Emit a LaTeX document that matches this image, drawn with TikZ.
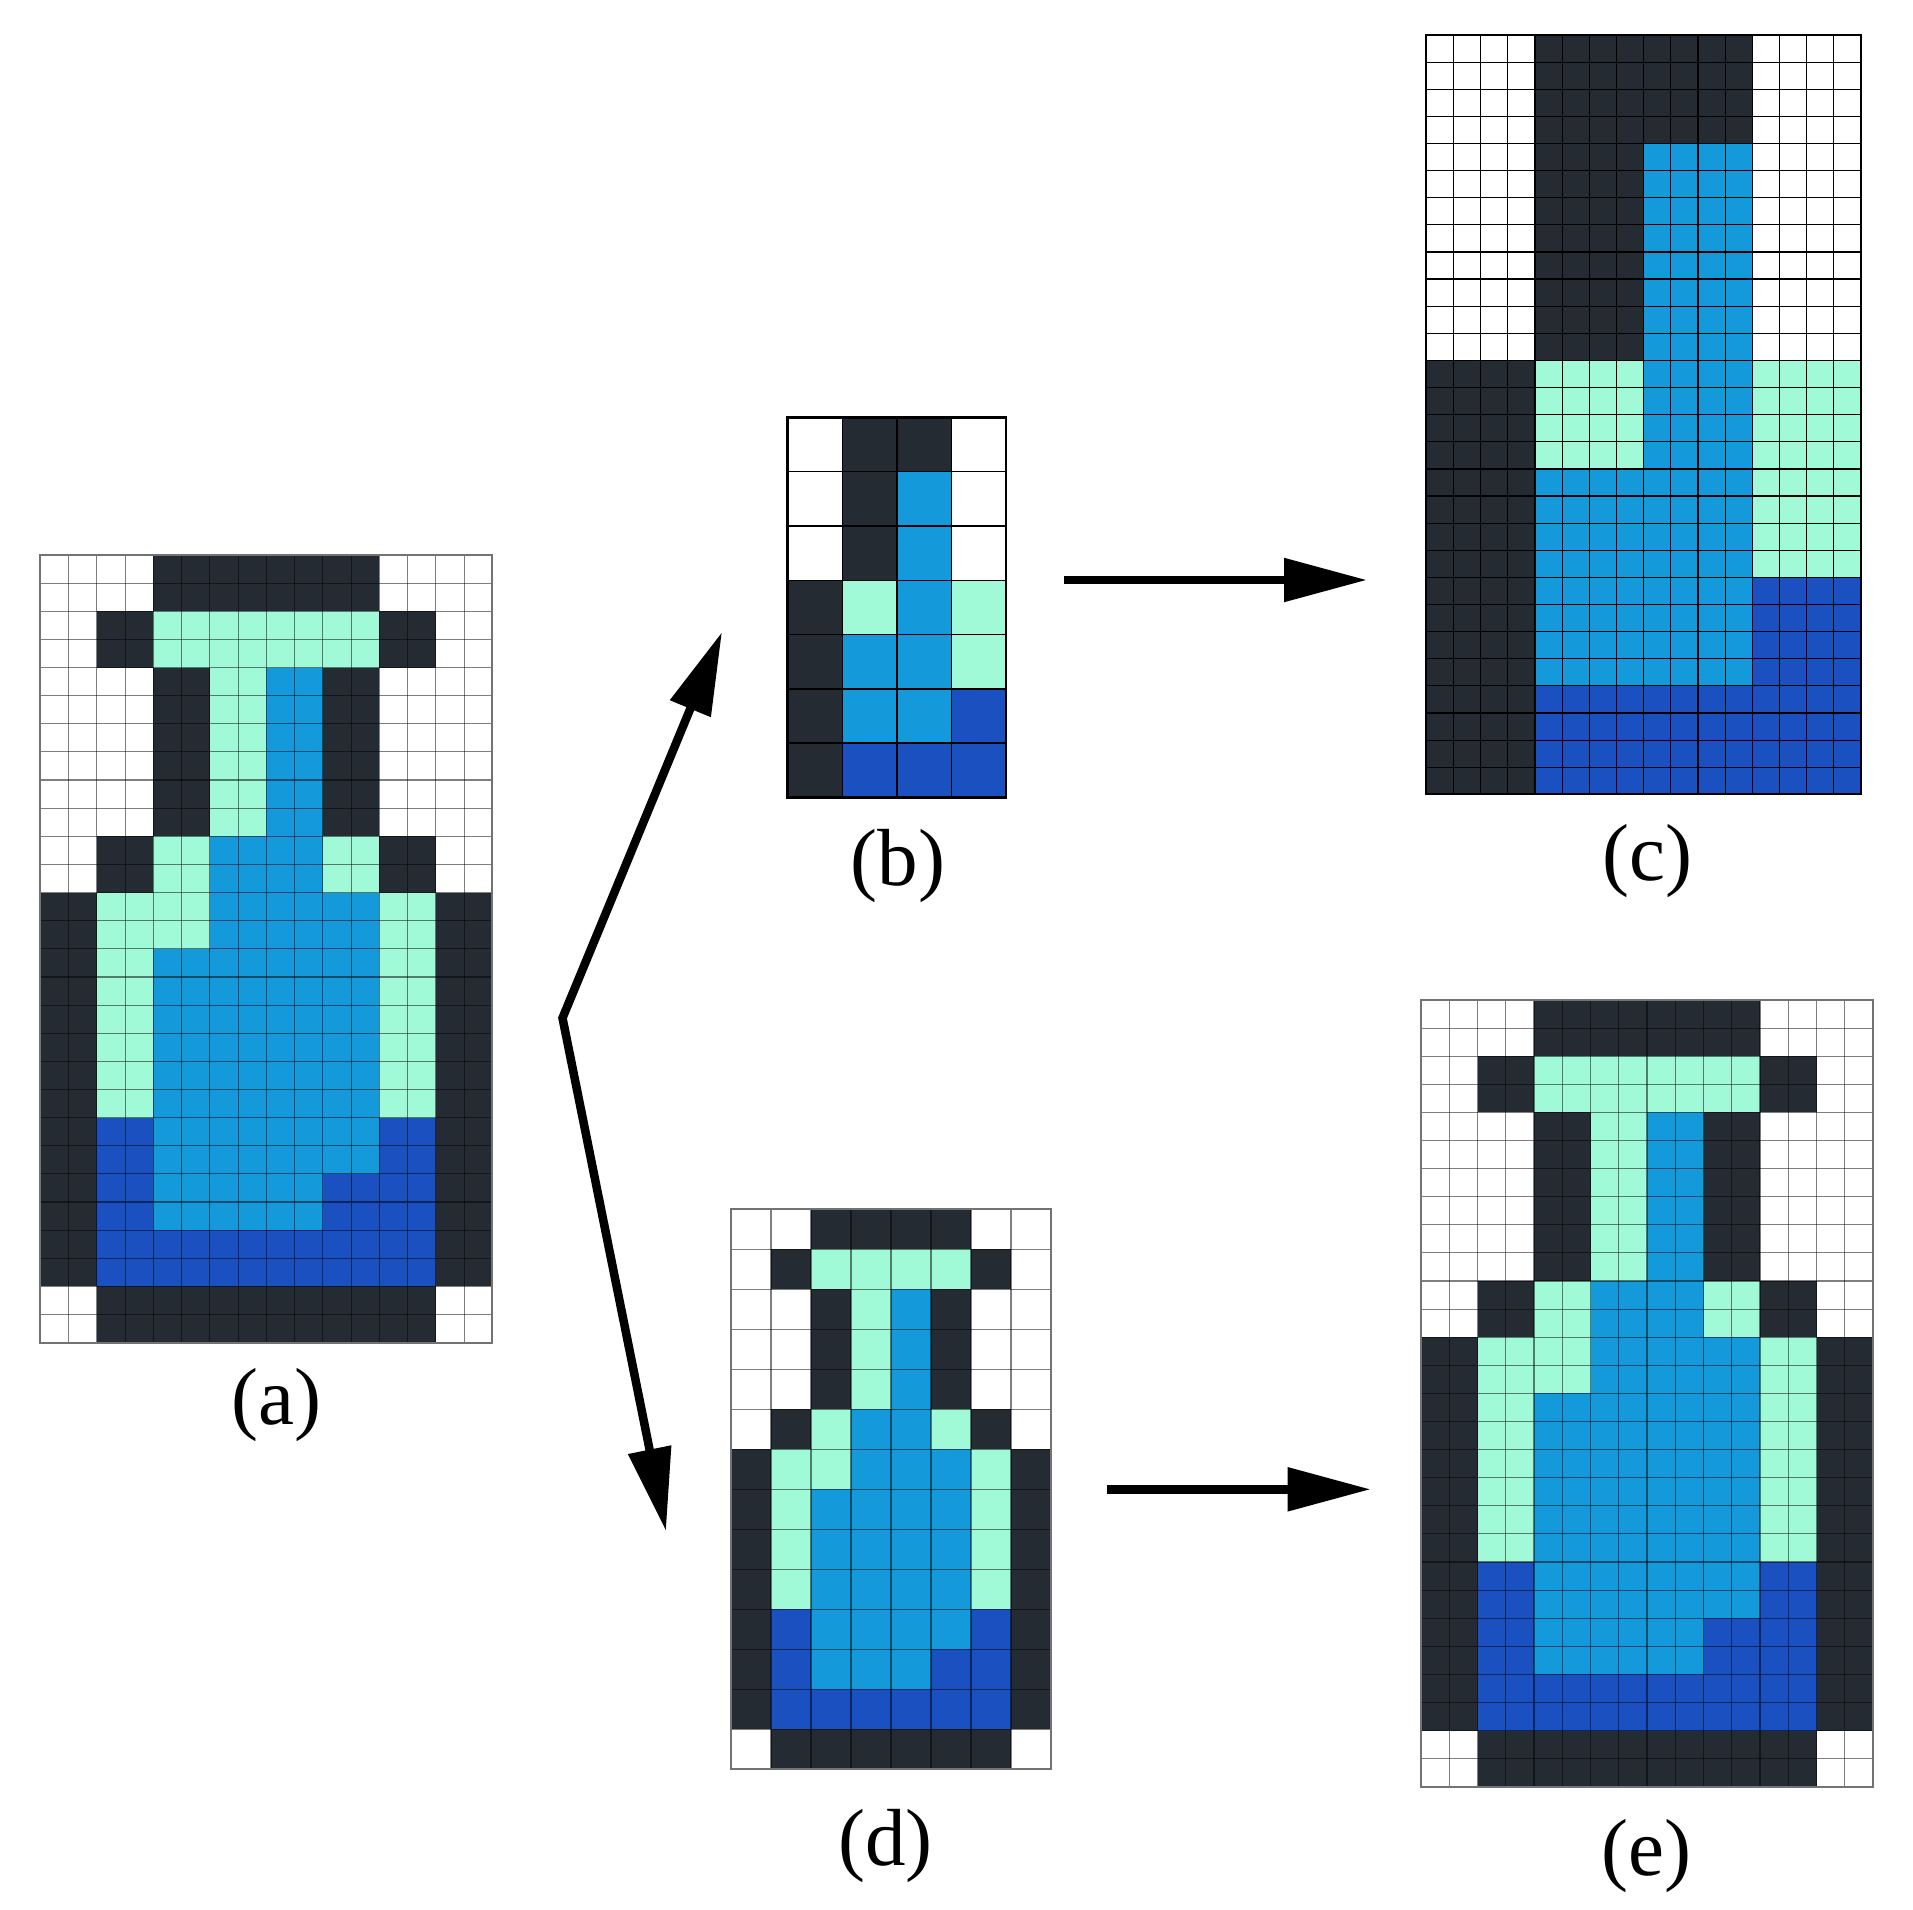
\documentclass[tikz,border=0pt]{standalone}
\usepackage{fontspec}
\setmainfont{Liberation Serif}
\usetikzlibrary{arrows.meta}
\definecolor{pxdark}{RGB}{37,43,51}
\definecolor{pxmint}{RGB}{160,250,216}
\definecolor{pxblue}{RGB}{20,154,218}
\definecolor{pxdeep}{RGB}{26,80,192}
\tikzset{
  softline/.style={line width=1.1pt, draw=black, draw opacity=0.5},
  softframe/.style={line width=2pt, draw=black!55},
  hardline/.style={line width=1.4pt, draw=black},
  hardframe/.style={line width=2.6pt, draw=black},
  bigarrow/.style={line width=8.5pt, draw=black, line join=miter,
    -{Triangle[length=83pt,width=42pt]}},
  twoarrow/.style={line width=8.5pt, draw=black, line join=miter,
    {Triangle[length=83pt,width=42pt]}-{Triangle[length=83pt,width=42pt]}},
  caption/.style={anchor=base, inner sep=0pt, font=\fontsize{81pt}{95pt}\selectfont}
}
% full bottle, 16 x 28 cells
\newcommand{\bottleBig}{%
  \fill[white] (0,0) rectangle (16,28);
  \fill[pxdark] (4,0) rectangle (12,2);
  \fill[pxdark] (2,2) rectangle (4,4);
  \fill[pxdark] (12,2) rectangle (14,4);
  \fill[pxmint] (4,2) rectangle (12,4);
  \fill[pxdark] (4,4) rectangle (6,10);
  \fill[pxmint] (6,4) rectangle (8,10);
  \fill[pxblue] (8,4) rectangle (10,10);
  \fill[pxdark] (10,4) rectangle (12,10);
  \fill[pxdark] (2,10) rectangle (4,12);
  \fill[pxmint] (4,10) rectangle (6,12);
  \fill[pxblue] (6,10) rectangle (10,12);
  \fill[pxmint] (10,10) rectangle (12,12);
  \fill[pxdark] (12,10) rectangle (14,12);
  \fill[pxdark] (0,12) rectangle (2,26);
  \fill[pxdark] (14,12) rectangle (16,26);
  \fill[pxmint] (2,12) rectangle (6,14);
  \fill[pxblue] (6,12) rectangle (12,14);
  \fill[pxmint] (12,12) rectangle (14,14);
  \fill[pxmint] (2,14) rectangle (4,20);
  \fill[pxblue] (4,14) rectangle (12,20);
  \fill[pxmint] (12,14) rectangle (14,20);
  \fill[pxdeep] (2,20) rectangle (4,24);
  \fill[pxblue] (4,20) rectangle (12,22);
  \fill[pxdeep] (12,20) rectangle (14,22);
  \fill[pxblue] (4,22) rectangle (10,24);
  \fill[pxdeep] (10,22) rectangle (14,24);
  \fill[pxdeep] (2,24) rectangle (14,26);
  \fill[pxdark] (2,26) rectangle (14,28);
}
% small bottle, 4 x 7 cells
\newcommand{\bottleSmall}{%
  \fill[white] (0,0) rectangle (4,7);
  \fill[pxdark] (1,0) rectangle (3,1);
  \fill[pxdark] (1,1) rectangle (2,3);
  \fill[pxdark] (0,3) rectangle (1,7);
  \fill[pxblue] (2,1) rectangle (3,4);
  \fill[pxblue] (1,4) rectangle (3,6);
  \fill[pxmint] (1,3) rectangle (2,4);
  \fill[pxmint] (3,3) rectangle (4,5);
  \fill[pxdeep] (3,5) rectangle (4,6);
  \fill[pxdeep] (1,6) rectangle (4,7);
}
\begin{document}
\begin{tikzpicture}[x=1pt,y=-1pt]
\path[use as bounding box, fill=white] (0,0) rectangle (1913,1910);

% (a)
\begin{scope}[shift={(40.3pt,-555pt)}, x=28.25pt, y=-28.13pt]
  \bottleBig
  \foreach \i in {1,...,15} \draw[softline] (\i,0) -- (\i,28);
  \foreach \j in {1,...,27} \draw[softline] (0,\j) -- (16,\j);
  \draw[softframe] (0,0) rectangle (16,28);
\end{scope}

% (b)
\begin{scope}[shift={(787.7pt,-417.3pt)}, x=54.6pt, y=-54.3pt]
  \bottleSmall
  \foreach \i in {1,...,3} \draw[hardline] (\i,0) -- (\i,7);
  \foreach \j in {1,...,6} \draw[hardline] (0,\j) -- (4,\j);
  \draw[hardframe] (0,0) rectangle (4,7);
\end{scope}

% (c)
\begin{scope}[shift={(1426.3pt,-35pt)}, x=27.17pt, y=-27.12pt]
  \begin{scope}[scale=4]\bottleSmall\end{scope}
  \foreach \i in {1,...,15} \draw[hardline, line width=1.2pt] (\i,0) -- (\i,28);
  \foreach \j in {1,...,27} \draw[hardline, line width=1.2pt] (0,\j) -- (16,\j);
  \draw[hardframe, line width=2.2pt] (0,0) rectangle (16,28);
\end{scope}

% (d)
\begin{scope}[shift={(731pt,-1209.3pt)}, x=20pt, y=-20pt]
  \bottleBig
  \foreach \i in {2,4,...,14} \draw[softline] (\i,0) -- (\i,28);
  \foreach \j in {2,4,...,26} \draw[softline] (0,\j) -- (16,\j);
  \draw[softframe] (0,0) rectangle (16,28);
\end{scope}

% (e)
\begin{scope}[shift={(1421pt,-1000pt)}, x=28.25pt, y=-28.1pt]
  \bottleBig
  \foreach \i in {1,...,15} \draw[softline] (\i,0) -- (\i,28);
  \foreach \j in {1,...,27} \draw[softline] (0,\j) -- (16,\j);
  \draw[softframe] (0,0) rectangle (16,28);
\end{scope}

% captions
\node[caption] (capa) at (276.7,1424) {(a)};
\node[caption] (capb) at (898,885) {(b)};
\node[caption] (capc) at (1647,880) {(c)};
\node[caption] (capd) at (885.7,1865) {(d)};
\node[caption] (cape) at (1646,1875) {(e)};

% arrows
\coordinate (splitTop) at (722,632);
\coordinate (splitMid) at (562.5,1018);
\coordinate (splitBot) at (666,1531);
\coordinate (upS) at (1064,580);
\coordinate (upE) at (1367,580);
\coordinate (dnS) at (1106.7,1489.3);
\coordinate (dnE) at (1370.7,1489.3);
\draw[twoarrow] (splitTop) -- (splitMid) -- (splitBot);
\draw[bigarrow] (upS) -- (upE);
\draw[bigarrow] (dnS) -- (dnE);
\end{tikzpicture}
\end{document}
